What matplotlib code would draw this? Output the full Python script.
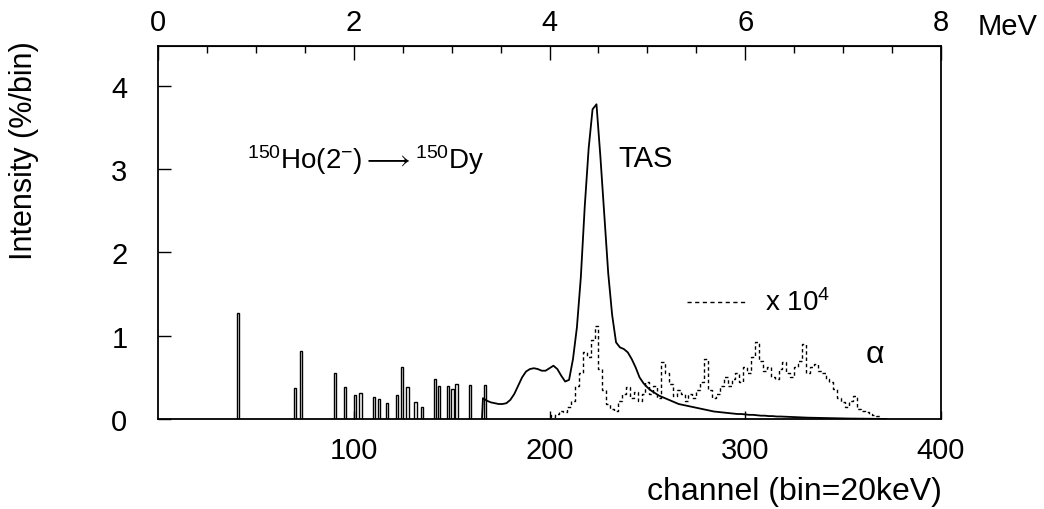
import numpy as np
import matplotlib.pyplot as plt
from matplotlib.ticker import MultipleLocator

plt.rcParams['font.family'] = ['Liberation Sans', 'DejaVu Sans']
plt.rcParams['mathtext.fontset'] = 'custom'
plt.rcParams['mathtext.rm'] = 'Liberation Sans'
plt.rcParams['mathtext.it'] = 'Liberation Sans:italic'

# discrete gamma lines (channel, intensity %/bin)
line_ch = [41, 70, 73, 90.5, 95.5, 100.5, 103.5, 110.5, 113, 117, 122, 124.5,
           127.5, 131.5, 135, 141.5, 143.5, 148, 150.5, 152.5, 159.5, 167]
line_int = [1.27, 0.37, 0.82, 0.55, 0.38, 0.29, 0.31, 0.26, 0.24, 0.19, 0.29, 0.62,
            0.39, 0.20, 0.15, 0.48, 0.40, 0.40, 0.36, 0.42, 0.41, 0.41]

# TAS spectrum: edge at 165.5, then every 2 channels from 166
tas_ch = [165.5] + list(range(166, 374, 2))
tas_int = [0.0,
           0.25, 0.22, 0.20, 0.19, 0.18, 0.18, 0.19, 0.23, 0.30, 0.40,
           0.50, 0.57, 0.60, 0.61, 0.60, 0.58, 0.58, 0.61, 0.64, 0.60,
           0.52, 0.45, 0.47, 0.72, 1.10, 1.70, 2.55, 3.25, 3.72, 3.78,
           3.15, 2.45, 1.75, 1.25, 0.92, 0.86, 0.84, 0.80, 0.72, 0.62,
           0.50, 0.43, 0.38, 0.34, 0.31, 0.28, 0.26, 0.24, 0.22, 0.20,
           0.18, 0.17, 0.16, 0.15, 0.14, 0.13, 0.12, 0.11, 0.10, 0.09,
           0.085, 0.08, 0.075, 0.07, 0.065, 0.06, 0.06, 0.055, 0.05, 0.05,
           0.045, 0.04, 0.04, 0.035, 0.035, 0.03, 0.03, 0.028, 0.026, 0.024,
           0.022, 0.02, 0.018, 0.016, 0.015, 0.014, 0.013, 0.012, 0.011, 0.01,
           0.009, 0.008, 0.007, 0.006, 0.005, 0.005, 0.004, 0.004, 0.003, 0.003,
           0.002, 0.002, 0.001, 0.0]

# alpha-gated part, scaled x 10^4, every 2 channels from 200
alpha_ch = list(range(200, 372, 2))
alpha_int = [0.05, 0.02, 0.06, 0.10, 0.08, 0.14, 0.22, 0.40, 0.55, 0.80,
             0.75, 0.95, 1.12, 0.60, 0.35, 0.18, 0.12, 0.10, 0.22, 0.30,
             0.38, 0.25, 0.33, 0.22, 0.30, 0.45, 0.30, 0.40, 0.25, 0.68,
             0.55, 0.42, 0.28, 0.35, 0.30, 0.22, 0.30, 0.25, 0.35, 0.45,
             0.72, 0.35, 0.25, 0.30, 0.40, 0.50, 0.40, 0.48, 0.55, 0.45,
             0.62, 0.55, 0.75, 0.92, 0.70, 0.58, 0.62, 0.50, 0.48, 0.60,
             0.68, 0.55, 0.50, 0.62, 0.70, 0.90, 0.55, 0.62, 0.66, 0.58,
             0.55, 0.48, 0.45, 0.36, 0.25, 0.20, 0.15, 0.22, 0.28, 0.12,
             0.10, 0.08, 0.06, 0.05, 0.04, 0.0]

fig = plt.figure(figsize=(10.44, 5.10), dpi=100)
ax = fig.add_axes([158 / 1044, 1 - 420 / 510, (941 - 158) / 1044, (420 - 47) / 510])

ax.bar(line_ch, line_int, width=1.2, facecolor='white', edgecolor='black', linewidth=1.0)
ax.plot(tas_ch, tas_int, color='black', lw=1.3)
ax.plot(alpha_ch, alpha_int, drawstyle='steps-mid', color='black', lw=1.0,
        linestyle=(0, (2.5, 2)))

ax.set_xlim(0, 400)
ax.set_ylim(0, 4.48)
ax.set_xticks([100, 200, 300, 400])
ax.set_yticks([0, 1, 2, 3, 4])
ax.tick_params(axis='x', direction='in', length=6, width=1, labelsize=21, pad=12)
ax.tick_params(axis='y', direction='in', length=9, width=1, labelsize=21, pad=22)
for s in ax.spines.values():
    s.set_linewidth(1.3)

top = ax.secondary_xaxis('top', functions=(lambda c: c * 0.02, lambda e: e / 0.02))
top.set_xticks([0, 2, 4, 6, 8])
top.xaxis.set_minor_locator(MultipleLocator(0.5))
top.tick_params(which='major', direction='in', length=10, width=1, labelsize=21, pad=7)
top.tick_params(which='minor', direction='in', length=5, width=1)

ax.text(106, 3.12, r'$^{150}$Ho(2$^{-}$)$\longrightarrow$$^{150}$Dy',
        fontsize=20, ha='center', va='center')
ax.text(235, 3.14, 'TAS', fontsize=21, ha='left', va='center')
ax.plot([270, 301], [1.40, 1.40], color='black', lw=1.0, linestyle=(0, (3, 2.5)))
ax.text(310, 1.40, r'x 10$^{4}$', fontsize=20, ha='left', va='center')
ax.text(366, 0.78, 'α', fontsize=23, ha='center', va='center')

fig.text(978 / 1044, 1 - 27 / 510, 'MeV', fontsize=21, ha='left', va='center')
fig.text(24 / 1044, 1 - 151 / 510, 'Intensity (%/bin)', fontsize=22,
         rotation=90, ha='center', va='center')
fig.text(942 / 1044, 1 - 492 / 510, 'channel (bin=20keV)', fontsize=23,
         ha='right', va='center')

fig.savefig('out.png', dpi=100)
